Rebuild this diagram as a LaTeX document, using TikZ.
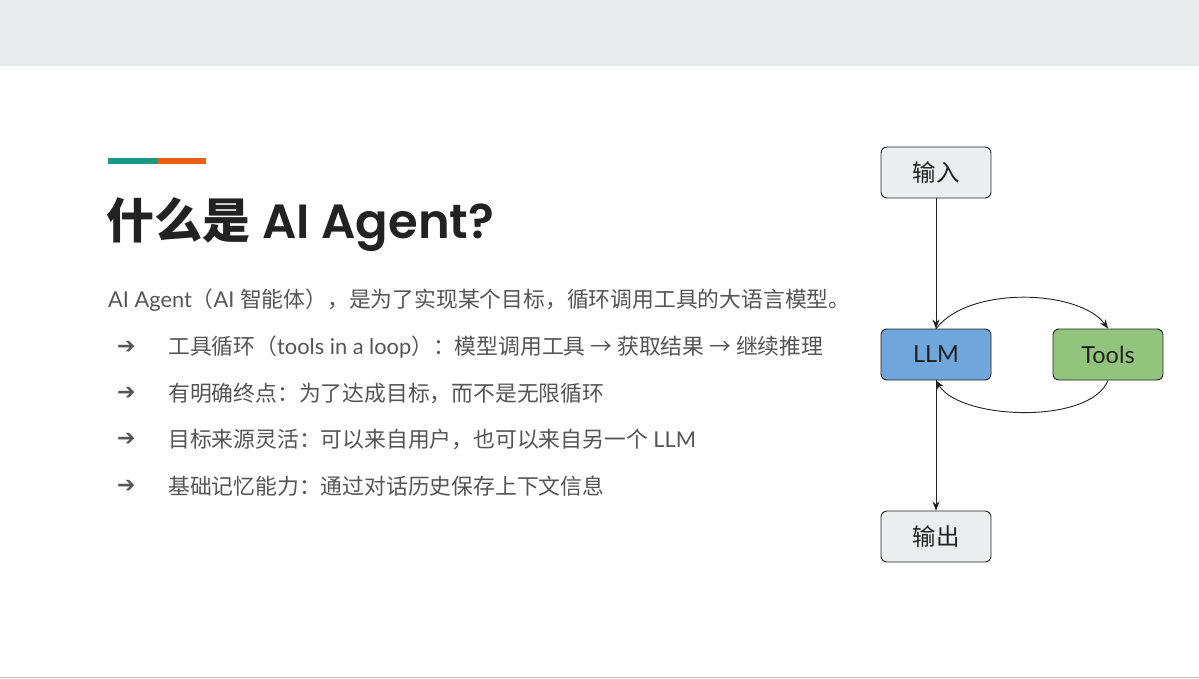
\documentclass[tikz,border=0pt]{standalone}
\usepackage{fontspec}
\setmainfont{Lato}
\newfontfamily\cjk{Noto Sans CJK SC}
\newfontfamily\pop{Poppins SemiBold}
\newcommand{\C}[1]{{\cjk #1}}
\usetikzlibrary{arrows.meta}
\definecolor{txt}{HTML}{555555}
\definecolor{dark}{HTML}{222222}
\definecolor{barbg}{HTML}{E8EBEB}
\definecolor{teal1}{HTML}{1B9687}
\definecolor{orng}{HTML}{EA5F14}
\definecolor{gbox}{HTML}{EBEEEE}
\definecolor{bbox}{HTML}{6FA7DC}
\definecolor{grbox}{HTML}{93C47D}
\tikzset{box/.style={draw=dark,line width=0.9pt,rounded corners=6pt,minimum width=110pt,minimum height=51pt,font=\fontsize{23.5}{26}\selectfont,text=dark},
 arr/.style={-{Stealth[length=9pt,width=7pt]},line width=0.9pt,draw=dark},
 body/.style={anchor=west,font=\fontsize{21.8}{26}\selectfont,text=txt}}
\begin{document}
\begin{tikzpicture}[x=1pt,y=-1pt]
\useasboundingbox (0,0) rectangle (1199,679);
\fill[white] (0,0) rectangle (1199,679);
\fill[barbg] (0,0) rectangle (1199,66);
\draw[gray!50,line width=1pt] (0,677) -- (1199,677);
\fill[teal1] (108,158) rectangle (158,164);
\fill[orng] (158,158) rectangle (206,164);
\node[anchor=base west,inner sep=0,font=\fontsize{48}{52}\selectfont,text=dark] (title) at (106,238) {{\cjk\bfseries 什么是} {\pop AI Agent?}};
\node[body,inner sep=0] (l0) at (108,300) {AI Agent\C{（}AI \C{智能体），是为了实现某个目标，循环调用工具的大语言模型。}};
\foreach \y/\t [count=\i] in {347/{\C{工具循环（}tools in a loop\C{）：模型调用工具 → 获取结果 → 继续推理}},
 393/{\C{有明确终点：为了达成目标，而不是无限循环}},
 439/{\C{目标来源灵活：可以来自用户，也可以来自另一个} LLM},
 486/{\C{基础记忆能力：通过对话历史保存上下文信息}}}{
 \node[body,inner sep=0,font=\fontsize{22}{24}\selectfont\bfseries] (a\i) at (117,\y) {\fontspec{DejaVu Sans}➔};
 \node[body,inner sep=0] (b\i) at (168,\y) {\t};
}
\node[box,fill=gbox] (in) at (936,172.5) {\C{输入}};
\node[box,fill=bbox] (llm) at (936,354.5) {LLM};
\node[box,fill=grbox] (tools) at (1108,354.5) {Tools};
\node[box,fill=gbox] (out) at (936,536.5) {\C{输出}};
\draw[arr] (in) -- (llm);
\draw[arr] (llm) -- (out);
\draw[arr] (llm.north) .. controls (970,285) and (1080,290) .. (tools.north);
\draw[arr] (tools.south) .. controls (1090,425) and (960,420) .. (llm.south);
\end{tikzpicture}
\end{document}
